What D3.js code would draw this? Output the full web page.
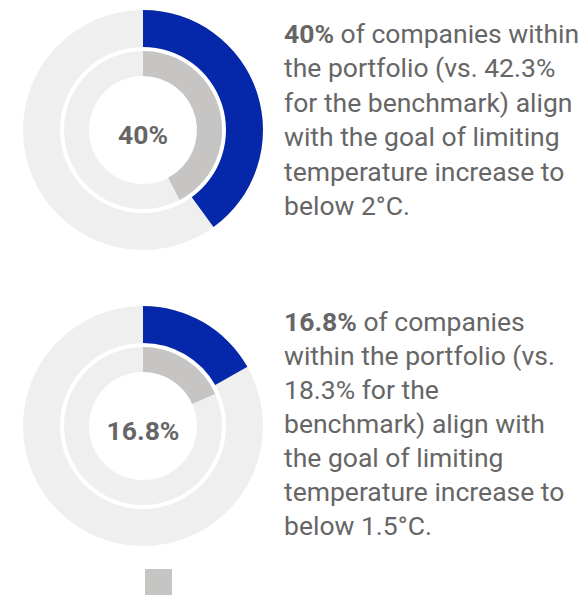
<!DOCTYPE html>
<html><head><meta charset="utf-8">
<script src="https://cdn.jsdelivr.net/npm/d3@7"></script>
<style>body{margin:0;background:#fff}svg{display:block}</style>
</head><body>
<svg id="c" width="585" height="595"></svg>
<script>
const portfolio = [40, 16.8];
const benchmark = [42.3, 18.3];
const centerLabels = ["40%", "16.8%"];
const boldParts = ["40%", "16.8%"];
const textLines = [
  ["of companies within", "the portfolio (vs. 42.3%", "for the benchmark) align", "with the goal of limiting", "temperature increase to", "below 2°C."],
  ["of companies", "within the portfolio (vs.", "18.3% for the", "benchmark) align with", "the goal of limiting", "temperature increase to", "below 1.5°C."]
];

const svg = d3.select("#c");
const font = "Roboto, 'Noto Sans', sans-serif";
const textColor = "#666666";
const centers = [{x:143,y:130,t:42.5,lh:34.5},{x:143,y:426,t:331,lh:34}];
const ang = d3.scaleLinear().domain([0,100]).range([0, 2*Math.PI]);
const outerArc = d3.arc().innerRadius(83).outerRadius(120);
const innerArc = d3.arc().innerRadius(54).outerRadius(79);

portfolio.forEach((v,i)=>{
  const c = centers[i];
  const g = svg.append("g").attr("transform",`translate(${c.x},${c.y})`);
  g.append("path").attr("d", outerArc({startAngle:0,endAngle:2*Math.PI})).attr("fill","#efefef");
  g.append("path").attr("d", outerArc({startAngle:0,endAngle:ang(v)})).attr("fill","#0527a9");
  g.append("path").attr("d", innerArc({startAngle:0,endAngle:2*Math.PI})).attr("fill","#efefef");
  g.append("path").attr("d", innerArc({startAngle:0,endAngle:ang(benchmark[i])})).attr("fill","#c6c5c4");
  g.append("text").attr("x",0).attr("y",14).attr("text-anchor","middle")
    .attr("font-family",font).attr("font-weight","bold").attr("font-size",26.5)
    .attr("fill",textColor).text(centerLabels[i]);

  const t = svg.append("text").attr("font-family",font).attr("font-size",26.5).attr("fill",textColor);
  textLines[i].forEach((line,j)=>{
    const ts = t.append("tspan").attr("x",284).attr("y",c.t + j*c.lh);
    if(j===0){
      ts.append("tspan").attr("font-weight","bold").text(boldParts[i]);
      ts.append("tspan").text(" "+line);
    } else ts.text(line);
  });
});
// legend swatch (partially visible)
svg.append("rect").attr("x",145).attr("y",569).attr("width",27).attr("height",27).attr("fill","#c6c5c4");
</script>
</body></html>
